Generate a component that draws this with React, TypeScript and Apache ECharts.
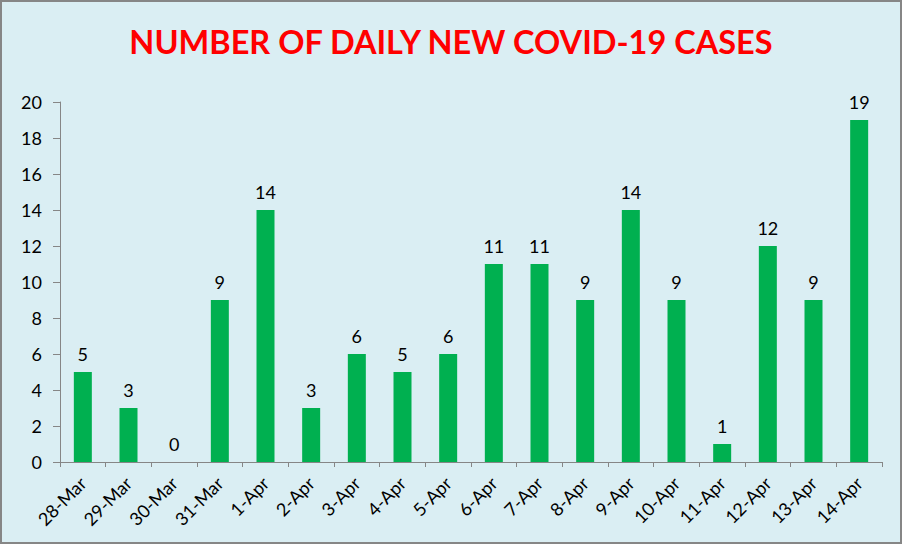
import React, { useEffect, useRef } from "react";
import * as echarts from "echarts";

const categories = [
  "28-Mar", "29-Mar", "30-Mar", "31-Mar", "1-Apr", "2-Apr", "3-Apr", "4-Apr", "5-Apr",
  "6-Apr", "7-Apr", "8-Apr", "9-Apr", "10-Apr", "11-Apr", "12-Apr", "13-Apr", "14-Apr",
];
const newCases = [5, 3, 0, 9, 14, 3, 6, 5, 6, 11, 11, 9, 14, 9, 1, 12, 9, 19];
const titleText = "NUMBER OF DAILY NEW COVID-19 CASES";

export default function App() {
  const ref = useRef<HTMLDivElement>(null);
  useEffect(() => {
    if (!ref.current) return;
    const chart = echarts.init(ref.current, null, { renderer: "svg" });
    chart.setOption({
      animation: false,
      backgroundColor: "#DAEEF3",
      title: {
        text: titleText,
        left: "center",
        top: 18,
        textStyle: { color: "#FF0000", fontFamily: "Lato", fontWeight: "bold", fontSize: 32.5 },
      },
      grid: { left: 58, right: 18, top: 100, bottom: 80, containLabel: false },
      xAxis: {
        type: "category",
        data: categories,
        boundaryGap: true,
        axisLine: { lineStyle: { color: "#868686", width: 1 } },
        axisTick: { show: true, length: 5, lineStyle: { color: "#868686" } },
        axisLabel: {
          rotate: 45,
          margin: 18,
          interval: 0,
          color: "#000000",
          fontFamily: "Lato",
          fontSize: 18,
        },
      },
      yAxis: {
        type: "value",
        min: 0,
        max: 20,
        interval: 2,
        splitLine: { show: false },
        axisLine: { show: true, lineStyle: { color: "#868686", width: 1 } },
        axisTick: { show: true, length: 7, lineStyle: { color: "#868686" } },
        axisLabel: { color: "#000000", fontFamily: "Lato", fontSize: 18, margin: 18 },
      },
      series: [
        {
          type: "bar",
          data: newCases,
          barWidth: 18,
          itemStyle: { color: "#00B050" },
          label: {
            show: true,
            position: "top",
            distance: 9,
            color: "#000000",
            fontFamily: "Lato",
            fontSize: 18,
          },
        },
      ],
    });
    return () => chart.dispose();
  }, []);
  return (
    <div
      style={{
        width: 898,
        height: 540,
        border: "2px solid #868686",
        position: "absolute",
        left: 0,
        top: 0,
      }}
    >
      <div ref={ref} style={{ width: 898, height: 540 }} />
    </div>
  );
}
